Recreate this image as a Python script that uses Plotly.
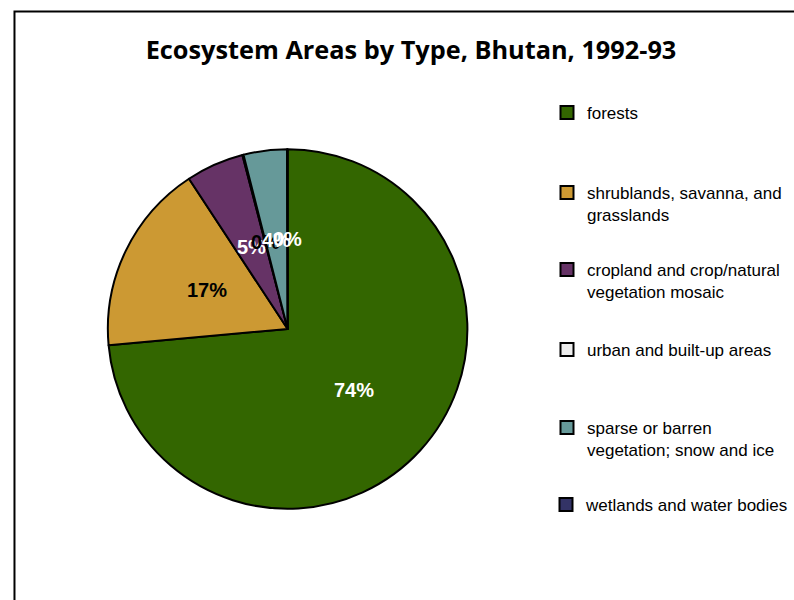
import math
import plotly.graph_objects as go

categories = [
    "forests",
    "shrublands, savanna, and<br>grasslands",
    "cropland and crop/natural<br>vegetation mosaic",
    "urban and built-up areas",
    "sparse or barren<br>vegetation; snow and ice",
    "wetlands and water bodies",
]
values = [73.6, 17.2, 5.2, 0.1, 3.9, 0.05]
colors = ["#336600", "#CC9933", "#663366", "#EEEEEE", "#669999", "#333366"]
text_colors = ["white", "black", "white", "black", "white", "white"]
title_text = "Ecosystem Areas by Type, Bhutan, 1992-93"

W, H = 794, 600
cx, cy, R = 288, 329, 180

fig = go.Figure()
fig.add_trace(go.Pie(
    labels=categories,
    values=values,
    sort=False,
    direction="clockwise",
    rotation=0,
    marker=dict(colors=colors, line=dict(color="black", width=2)),
    textinfo="none",
    showlegend=False,
    hoverinfo="label+percent",
    domain=dict(x=[(cx - R) / W, (cx + R) / W], y=[(H - cy - R) / H, (H - cy + R) / H]),
))

# data labels at half radius along each slice's mid-angle (Excel style)
total = sum(values)
annotations = []
cum = 0.0
for v, tc in zip(values, text_colors):
    frac = v / total
    mid = (cum + frac / 2) * 2 * math.pi
    cum += frac
    px = cx + 0.5 * R * math.sin(mid)
    py = cy - 0.5 * R * math.cos(mid)
    annotations.append(dict(
        text=f"{round(frac * 100):.0f}%", x=px / W, y=1 - py / H, xref="paper", yref="paper",
        xanchor="center", yanchor="middle", showarrow=False,
        font=dict(family="Liberation Sans", size=20, color=tc, weight="bold"),
    ))

legend_centers = [113, 193, 270, 350, 428, 505]
layout_legends = {}
for i, (cat, col, yc) in enumerate(zip(categories, colors, legend_centers)):
    name = "legend" if i == 0 else f"legend{i+1}"
    fig.add_trace(go.Scatter(
        x=[None], y=[None], mode="markers", name=cat,
        marker=dict(symbol="square", size=13, color=col, line=dict(color="black", width=2)),
        legend=name, showlegend=True, hoverinfo="skip",
    ))
    layout_legends[name] = dict(
        x=547 / W, y=1 - (yc - 18) / H, xanchor="left", yanchor="top",
        font=dict(family="Liberation Sans", size=17, color="black"),
        bgcolor="rgba(0,0,0,0)", valign="top", borderwidth=0,
    )

fig.update_layout(
    width=W, height=H,
    margin=dict(l=0, r=0, t=0, b=0),
    paper_bgcolor="white", plot_bgcolor="white",
    title=dict(text=title_text, x=411 / W, y=1 - 50 / H, xanchor="center", yanchor="middle",
               font=dict(family="Open Sans", size=25.3, color="black", weight="bold")),
    xaxis=dict(visible=False), yaxis=dict(visible=False),
    annotations=annotations,
    shapes=[dict(type="rect", xref="paper", yref="paper",
                 x0=14.5 / W, x1=1.05, y0=-0.05, y1=1 - 11.5 / H,
                 line=dict(color="black", width=2), fillcolor="rgba(0,0,0,0)")],
    **layout_legends,
)

fig.write_html("out.html", config={"displayModeBar": False},
               post_script="document.body.style.margin='0';document.body.style.overflow='hidden';")
